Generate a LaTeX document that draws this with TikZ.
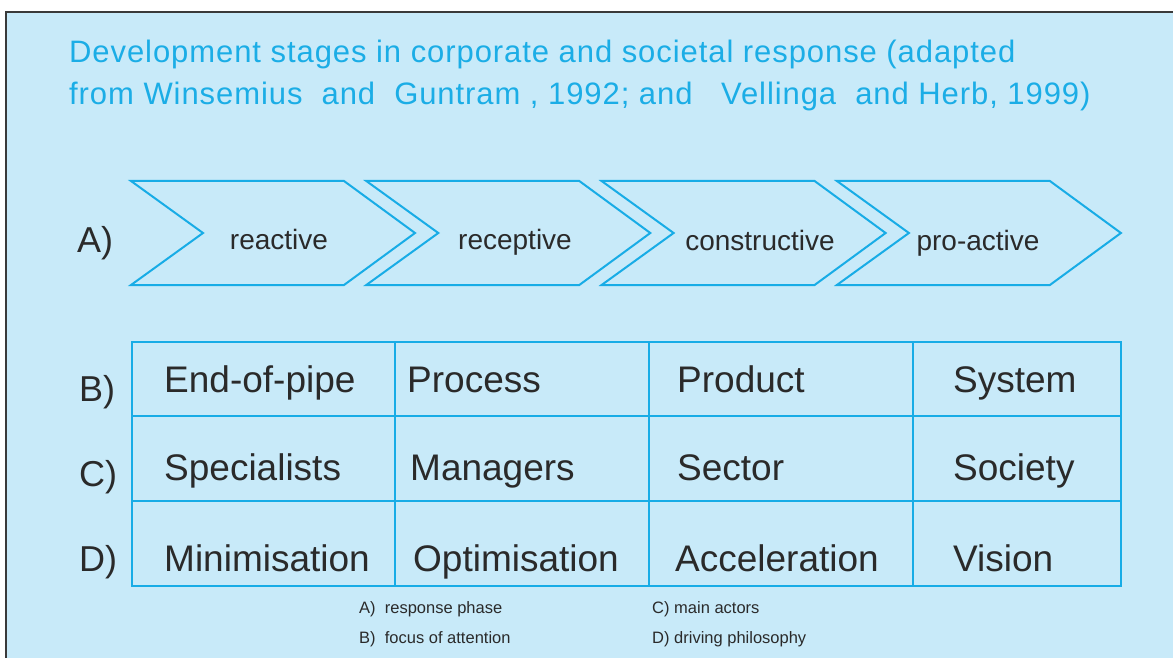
\documentclass[tikz,border=0pt]{standalone}
\usepackage{fontspec}
\setmainfont{Liberation Sans}
\definecolor{bgblue}{HTML}{C8EAF9}
\definecolor{lineblue}{HTML}{18ACE6}
\definecolor{titleblue}{HTML}{1BADE6}
\definecolor{txtgray}{HTML}{2A2A2A}
\definecolor{framegray}{HTML}{3A3A3A}
\newfontfamily\titlefont[LetterSpace=3.0]{Liberation Sans}
\tikzset{
  chev/.style={draw=lineblue, line width=2pt, line join=miter},
  grid/.style={draw=lineblue, line width=2pt},
  titletxt/.style={anchor=base west, inner sep=0pt, text=titleblue, font=\titlefont\fontsize{31}{35}\selectfont},
  chevtxt/.style={anchor=base, inner sep=0pt, text=txtgray, font=\fontsize{28}{32}\selectfont},
  rowlab/.style={anchor=base west, inner sep=0pt, text=txtgray, font=\fontsize{36}{40}\selectfont},
  celltxt/.style={anchor=base west, inner sep=0pt, text=txtgray, font=\fontsize{37}{42}\selectfont},
  legtxt/.style={anchor=base west, inner sep=0pt, text=txtgray, font=\fontsize{16.5}{19}\selectfont},
}
\begin{document}
\begin{tikzpicture}[x=1pt,y=-1pt]
\useasboundingbox (0,0) rectangle (1173,658);
\fill[white] (0,0) rectangle (1173,658);
\fill[bgblue] (6,12) rectangle (1173,658);
\draw[framegray, line width=1.6pt] (6,658) -- (6,12) -- (1173,12);

% title
\node[titletxt] (t1) at (69,63) {Development stages in corporate and societal response (adapted};
\node[titletxt] (t2) at (69,105) {from Winsemius\ \ and\ \ Guntram , 1992; and\ \ \ Vellinga\ \ and Herb, 1999)};

% chevrons
\foreach \i in {0,1,2,3}{
  \pgfmathsetmacro{\L}{131+235.3*\i}
  \draw[chev] (\L,181) -- (\L+213,181) -- (\L+284,233) -- (\L+213,285) -- (\L,285) -- (\L+72,233) -- cycle;
}
\node[rowlab] (la) at (77,252) {A)};
\node[chevtxt] (c1) at (279,249) {reactive};
\node[chevtxt] (c2) at (515,249) {receptive};
\node[chevtxt] (c3) at (760,250) {constructive};
\node[chevtxt] (c4) at (978,250) {pro-active};

% table
\draw[grid] (132,342) rectangle (1121,586);
\draw[grid] (132,416) -- (1121,416);
\draw[grid] (132,501) -- (1121,501);
\draw[grid] (395,342) -- (395,586);
\draw[grid] (649,342) -- (649,586);
\draw[grid] (913,342) -- (913,586);

\node[rowlab] (lb) at (79,401) {B)};
\node[rowlab] (lc) at (79,486) {C)};
\node[rowlab] (ld) at (79,571) {D)};

\node[celltxt] (b1) at (164,392) {End-of-pipe};
\node[celltxt] (b2) at (407,392) {Process};
\node[celltxt] (b3) at (677,392) {Product};
\node[celltxt] (b4) at (953,392) {System};

\node[celltxt] (cc1) at (164,480) {Specialists};
\node[celltxt] (cc2) at (410,480) {Managers};
\node[celltxt] (cc3) at (677,480) {Sector};
\node[celltxt] (cc4) at (953,480) {Society};

\node[celltxt] (d1) at (164,571) {Minimisation};
\node[celltxt] (d2) at (413,571) {Optimisation};
\node[celltxt] (d3) at (675,571) {Acceleration};
\node[celltxt] (d4) at (953,571) {Vision};

% legend
\node[legtxt] (ga) at (359,613) {A)\ \ response phase};
\node[legtxt] (gb) at (359,643) {B)\ \ focus of attention};
\node[legtxt] (gc) at (652,613) {C) main actors};
\node[legtxt] (gd) at (652,643) {D) driving philosophy};
\end{tikzpicture}
\end{document}
